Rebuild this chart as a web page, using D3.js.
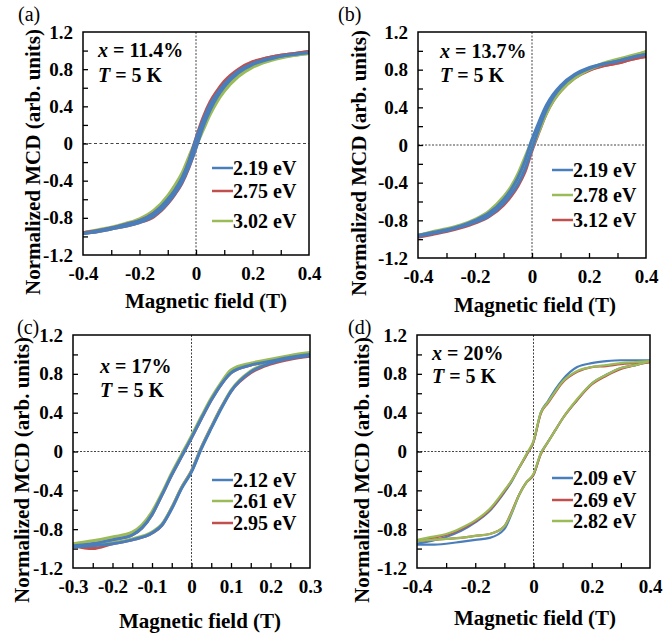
<!DOCTYPE html>
<html>
<head>
<meta charset="utf-8">
<script src="https://cdn.jsdelivr.net/npm/d3@7"></script>
<style>
  body { margin: 0; background: #fff; }
  svg { display: block; }
  text { font-family: "Liberation Serif", "Times New Roman", serif; font-weight: bold; fill: #000; }
</style>
</head>
<body>
<svg width="663" height="638"></svg>
<script>
// field grids (T)
var field4 = [-0.4,-0.35,-0.3,-0.25,-0.2,-0.15,-0.1,-0.075,-0.05,-0.025,0,0.025,0.05,0.075,0.1,0.15,0.2,0.25,0.3,0.35,0.4];
var field3 = [-0.3,-0.25,-0.2,-0.15,-0.1,-0.075,-0.05,-0.025,0,0.025,0.05,0.075,0.1,0.15,0.2,0.25,0.3];

// (a) x = 11.4%
var a219Up   = [-0.97,-0.95,-0.92,-0.89,-0.85,-0.78,-0.64,-0.54,-0.42,-0.25,-0.05,0.18,0.36,0.50,0.61,0.76,0.85,0.90,0.94,0.96,0.98];
var a219Down = [-0.97,-0.94,-0.91,-0.87,-0.83,-0.75,-0.60,-0.50,-0.37,-0.19,0.05,0.25,0.42,0.54,0.64,0.78,0.86,0.91,0.94,0.96,0.98];
var a275Up   = [-0.97,-0.95,-0.92,-0.89,-0.85,-0.79,-0.65,-0.55,-0.43,-0.26,-0.04,0.21,0.40,0.54,0.65,0.79,0.87,0.92,0.95,0.97,0.99];
var a275Down = [-0.96,-0.94,-0.91,-0.87,-0.83,-0.75,-0.61,-0.51,-0.38,-0.19,0.06,0.28,0.45,0.57,0.67,0.80,0.88,0.92,0.95,0.97,0.99];
var a302Up   = [-0.96,-0.94,-0.91,-0.87,-0.83,-0.75,-0.60,-0.49,-0.36,-0.19,-0.03,0.14,0.31,0.45,0.56,0.72,0.82,0.88,0.92,0.95,0.97];
var a302Down = [-0.96,-0.93,-0.90,-0.86,-0.81,-0.72,-0.56,-0.45,-0.32,-0.14,0.04,0.20,0.37,0.50,0.60,0.75,0.84,0.89,0.93,0.95,0.97];

// (b) x = 13.7%
var b219Up   = [-0.97,-0.94,-0.91,-0.87,-0.82,-0.75,-0.62,-0.53,-0.42,-0.26,-0.04,0.18,0.37,0.51,0.61,0.74,0.81,0.86,0.89,0.93,0.96];
var b219Down = [-0.96,-0.93,-0.90,-0.86,-0.80,-0.72,-0.58,-0.48,-0.35,-0.17,0.06,0.25,0.42,0.54,0.63,0.75,0.82,0.86,0.89,0.93,0.96];
var b278Up   = [-0.96,-0.93,-0.90,-0.86,-0.81,-0.73,-0.59,-0.49,-0.37,-0.21,-0.03,0.15,0.33,0.47,0.57,0.71,0.80,0.86,0.90,0.94,0.99];
var b278Down = [-0.96,-0.92,-0.89,-0.85,-0.79,-0.70,-0.55,-0.45,-0.31,-0.13,0.05,0.21,0.38,0.51,0.60,0.73,0.81,0.87,0.91,0.95,0.99];
var b312Up   = [-0.98,-0.95,-0.92,-0.88,-0.83,-0.76,-0.64,-0.55,-0.44,-0.29,-0.06,0.14,0.33,0.47,0.57,0.71,0.79,0.84,0.87,0.91,0.94];
var b312Down = [-0.97,-0.94,-0.91,-0.87,-0.81,-0.74,-0.60,-0.50,-0.38,-0.20,0.04,0.22,0.39,0.52,0.61,0.73,0.80,0.84,0.87,0.91,0.94];

// (c) x = 17%
var c212Up   = [-0.98,-0.97,-0.95,-0.91,-0.84,-0.76,-0.59,-0.38,-0.21,0.03,0.24,0.44,0.62,0.82,0.91,0.96,0.99];
var c212Down = [-0.97,-0.95,-0.91,-0.86,-0.65,-0.45,-0.24,-0.05,0.14,0.34,0.53,0.69,0.81,0.89,0.93,0.97,1.00];
var c261Up   = [-0.97,-0.96,-0.94,-0.90,-0.83,-0.75,-0.58,-0.37,-0.20,0.04,0.25,0.45,0.63,0.83,0.92,0.97,1.01];
var c261Down = [-0.95,-0.92,-0.88,-0.83,-0.62,-0.43,-0.22,-0.03,0.16,0.36,0.55,0.71,0.84,0.91,0.95,0.99,1.02];
var c295Up   = [-0.97,-1.00,-0.95,-0.91,-0.84,-0.76,-0.58,-0.37,-0.20,0.04,0.25,0.45,0.62,0.81,0.90,0.95,0.98];
var c295Down = [-0.97,-0.95,-0.91,-0.86,-0.65,-0.45,-0.24,-0.05,0.14,0.34,0.53,0.69,0.81,0.89,0.93,0.96,0.99];

// (d) x = 20%
var d209Up   = [-0.96,-0.96,-0.95,-0.93,-0.91,-0.89,-0.80,-0.64,-0.45,-0.32,-0.24,-0.02,0.10,0.22,0.34,0.53,0.70,0.79,0.86,0.89,0.93];
var d209Down = [-0.95,-0.92,-0.88,-0.82,-0.73,-0.61,-0.42,-0.31,-0.17,-0.04,0.10,0.40,0.52,0.64,0.74,0.87,0.91,0.93,0.94,0.94,0.94];
var d269Up   = [-0.92,-0.91,-0.90,-0.89,-0.87,-0.85,-0.77,-0.62,-0.45,-0.32,-0.24,-0.03,0.10,0.22,0.34,0.53,0.69,0.78,0.85,0.89,0.92];
var d269Down = [-0.92,-0.89,-0.86,-0.80,-0.72,-0.60,-0.41,-0.30,-0.17,-0.04,0.10,0.39,0.50,0.61,0.71,0.82,0.87,0.88,0.90,0.91,0.92];
var d282Up   = [-0.92,-0.91,-0.90,-0.89,-0.87,-0.85,-0.77,-0.63,-0.45,-0.32,-0.23,-0.02,0.10,0.22,0.34,0.54,0.70,0.79,0.86,0.89,0.93];
var d282Down = [-0.91,-0.88,-0.85,-0.79,-0.71,-0.59,-0.40,-0.30,-0.17,-0.03,0.11,0.40,0.51,0.62,0.72,0.83,0.87,0.89,0.91,0.92,0.93];

// ticks
var yLabels = [-1.2,-0.8,-0.4,0,0.4,0.8,1.2];
var yMarks = [-1.0,-0.8,-0.6,-0.4,-0.2,0,0.2,0.4,0.6,0.8,1.0];
var x4Labels = [-0.4,-0.2,0,0.2,0.4];
var x4Marks = [-0.3,-0.2,-0.1,0,0.1,0.2,0.3];
var x3Labels = [-0.3,-0.2,-0.1,0,0.1,0.2,0.3];
var x3Marks = [-0.25,-0.2,-0.15,-0.1,-0.05,0,0.05,0.1,0.15,0.2,0.25];

var blue = "#4a7ebb", red = "#c0504d", green = "#9bbb59";

var panels = [
  { tag: "(a)", comp: "11.4%", field: field4, xdom: [-0.4, 0.4], xl: x4Labels, xm: x4Marks,
    l: 83, r: 309, t: 32, b: 255, tagX: 18, tagY: 21, ytX: 33, ytY: 162, xtX: 206, xtY: 308,
    annX: 98, annY: [57, 82], legX: 212, legY: [175, 198, 228], lw: 3, hdash: "3,2.5",
    legend: [["2.19 eV", blue], ["2.75 eV", red], ["3.02 eV", green]],
    draw: [[a302Up, a302Down, green], [a275Up, a275Down, red], [a219Up, a219Down, blue]] },
  { tag: "(b)", comp: "13.7%", field: field4, xdom: [-0.4, 0.4], xl: x4Labels, xm: x4Marks,
    l: 418, r: 646, t: 32, b: 258, tagX: 338, tagY: 21, ytX: 359, ytY: 163, xtX: 535, xtY: 312,
    annX: 440, annY: [58, 82], legX: 552, legY: [177, 202, 227], lw: 3, hdash: "2,1.5",
    legend: [["2.19 eV", blue], ["2.78 eV", green], ["3.12 eV", red]],
    draw: [[b312Up, b312Down, red], [b278Up, b278Down, green], [b219Up, b219Down, blue]] },
  { tag: "(c)", comp: "17%", field: field3, xdom: [-0.3, 0.3], xl: x3Labels, xm: x3Marks,
    l: 73, r: 310, t: 335, b: 568, tagX: 17, tagY: 334, ytX: 22, ytY: 470, xtX: 200, xtY: 628,
    annX: 100, annY: [373, 397], legX: 212, legY: [487, 508, 530], lw: 3, hdash: "2,1.5",
    legend: [["2.12 eV", blue], ["2.61 eV", green], ["2.95 eV", red]],
    draw: [[c295Up, c295Down, red], [c261Up, c261Down, green], [c212Up, c212Down, blue]] },
  { tag: "(d)", comp: "20%", field: field4, xdom: [-0.4, 0.4], xl: x4Labels, xm: x4Marks,
    l: 417, r: 650, t: 335, b: 568, tagX: 348, tagY: 334, ytX: 362, ytY: 470, xtX: 535, xtY: 625,
    annX: 432, annY: [360, 383], legX: 552, legY: [485, 507, 528], lw: 2.2, hdash: "2,1.5",
    legend: [["2.09 eV", blue], ["2.69 eV", red], ["2.82 eV", green]],
    draw: [[d209Up, d209Down, blue], [d269Up, d269Down, red], [d282Up, d282Down, green]] }
];

var svg = d3.select("svg");
svg.append("rect").attr("width", 663).attr("height", 638).attr("fill", "#fff");

function fmt(d) {
  if (d === 0) return "0";
  return d3.format(".1f")(d).replace("\u2212", "-");
}

panels.forEach(function(p, pi) {
  var x = d3.scaleLinear().domain(p.xdom).range([p.l, p.r]);
  var y = d3.scaleLinear().domain([-1.2, 1.2]).range([p.b, p.t]);
  var g = svg.append("g");

  // clip
  var clipId = "clip" + pi;
  g.append("clipPath").attr("id", clipId)
    .append("rect").attr("x", p.l).attr("y", p.t).attr("width", p.r - p.l).attr("height", p.b - p.t);

  // zero lines
  g.append("line").attr("x1", p.l).attr("x2", p.r).attr("y1", y(0)).attr("y2", y(0))
    .attr("stroke", "#444").attr("stroke-width", 1).attr("stroke-dasharray", p.hdash);
  g.append("line").attr("x1", x(0)).attr("x2", x(0)).attr("y1", p.t).attr("y2", p.b)
    .attr("stroke", "#444").attr("stroke-width", 1).attr("stroke-dasharray", "2,1.5");

  // curves
  var line = d3.line()
    .x(function(d) { return x(d[0]); })
    .y(function(d) { return y(d[1]); })
    .curve(d3.curveMonotoneX);
  var cg = g.append("g").attr("clip-path", "url(#" + clipId + ")");
  p.draw.forEach(function(s) {
    [s[0], s[1]].forEach(function(vals) {
      cg.append("path")
        .attr("d", line(p.field.map(function(f, i) { return [f, vals[i]]; })))
        .attr("fill", "none")
        .attr("stroke", s[2])
        .attr("stroke-width", p.lw)
        .attr("stroke-linejoin", "round");
    });
  });

  // tick marks (inward)
  g.append("g").attr("transform", "translate(" + p.l + ",0)")
    .call(d3.axisLeft(y).tickValues(yMarks).tickSize(-5).tickFormat(""))
    .call(function(a) { a.select(".domain").remove(); a.selectAll("line").attr("stroke-width", 1.3); });
  g.append("g").attr("transform", "translate(0," + p.b + ")")
    .call(d3.axisBottom(x).tickValues(p.xm).tickSize(-5).tickFormat(""))
    .call(function(a) { a.select(".domain").remove(); a.selectAll("line").attr("stroke-width", 1.3); });

  // tick labels
  g.append("g").attr("transform", "translate(" + p.l + ",0)")
    .call(d3.axisLeft(y).tickValues(yLabels).tickSize(0).tickPadding(10).tickFormat(fmt))
    .call(function(a) {
      a.select(".domain").remove();
      a.selectAll("text").attr("font-size", 19).attr("font-family", null);
    });
  g.append("g").attr("transform", "translate(0," + p.b + ")")
    .call(d3.axisBottom(x).tickValues(p.xl).tickSize(0).tickPadding(12).tickFormat(fmt))
    .call(function(a) {
      a.select(".domain").remove();
      a.selectAll("text").attr("font-size", 19).attr("font-family", null);
    });

  // frame
  g.append("rect").attr("x", p.l).attr("y", p.t).attr("width", p.r - p.l).attr("height", p.b - p.t)
    .attr("fill", "none").attr("stroke", "#000").attr("stroke-width", 1.5);

  // titles
  g.append("text").attr("x", p.xtX).attr("y", p.xtY).attr("text-anchor", "middle")
    .attr("font-size", 21).text("Magnetic field (T)");
  g.append("text").attr("transform", "translate(" + p.ytX + "," + p.ytY + ") rotate(-90)")
    .attr("text-anchor", "middle").attr("dy", "0.35em")
    .attr("font-size", 21).text("Normalized MCD (arb. units)");
  g.append("text").attr("x", p.tagX).attr("y", p.tagY).attr("font-size", 20)
    .style("font-weight", "normal").text(p.tag);

  // annotation
  var t1 = g.append("text").attr("x", p.annX).attr("y", p.annY[0]).attr("font-size", 20);
  t1.append("tspan").attr("font-style", "italic").text("x");
  t1.append("tspan").text(" = " + p.comp);
  var t2 = g.append("text").attr("x", p.annX).attr("y", p.annY[1]).attr("font-size", 20);
  t2.append("tspan").attr("font-style", "italic").text("T");
  t2.append("tspan").text(" = 5 K");

  // legend
  p.legend.forEach(function(e, i) {
    g.append("line").attr("x1", p.legX).attr("x2", p.legX + 21)
      .attr("y1", p.legY[i] - 7).attr("y2", p.legY[i] - 7)
      .attr("stroke", e[1]).attr("stroke-width", 2.5);
    g.append("text").attr("x", p.legX + 21).attr("y", p.legY[i]).attr("font-size", 20).text(e[0]);
  });
});
</script>
</body>
</html>
